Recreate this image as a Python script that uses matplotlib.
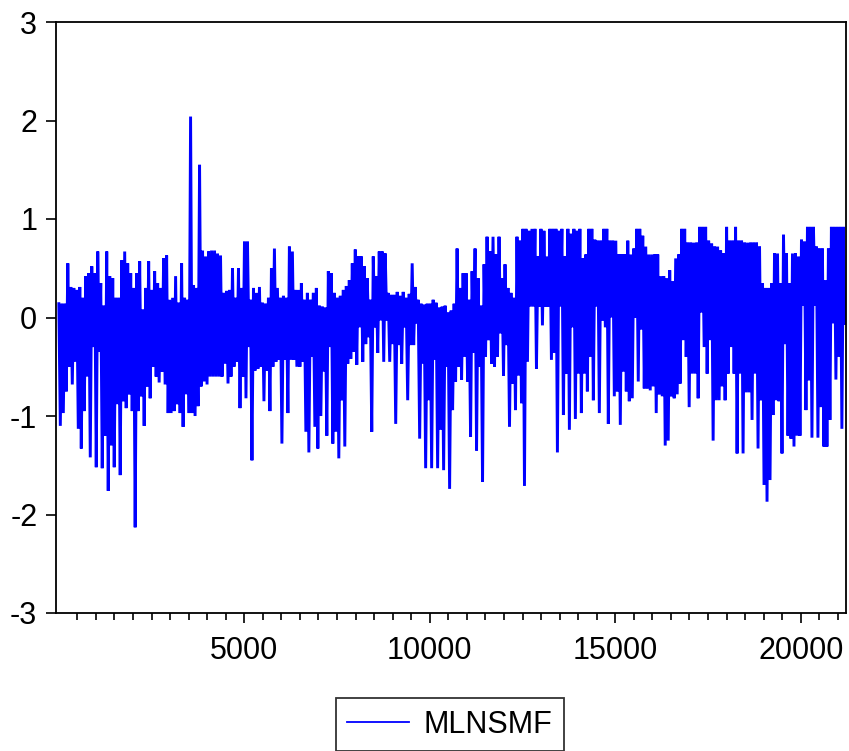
import matplotlib
matplotlib.use('Agg')
import matplotlib.pyplot as plt
import numpy as np
from matplotlib.ticker import FixedLocator

plt.rcParams['font.family'] = ['Liberation Sans', 'DejaVu Sans']
plt.rcParams['axes.unicode_minus'] = False

SERIES_NAME = "MLNSMF"
N_OBS = 21190

# values, left to right (pairs of upper / lower swings)
seg1 = [0.14, -1.1, 0.14, -0.97, 0.14, -0.75, 0.55, -0.5, 0.31, -0.68, 0.3, -0.45, 0.28, -1.13, 0.31, -1.33, 0.2, -0.95, 0.42, -0.6,
        0.45, -1.42, 0.52, -0.3, 0.45, -1.52, 0.67, -0.35, 0.35, -1.53, 0.12, -1.2, 0.67, -1.76, 0.42, -1.3, 0.4, -1.52, 0.2, -0.88,
        0.2, -1.6, 0.58, -0.85, 0.67, -0.92, 0.55, -0.78, 0.45, -0.95, 0.3, -2.13, 0.45, -0.95, 0.57, -0.8, 0.08, -1.1, 0.3, -0.7,
        0.57, -0.82, 0.28, -0.5, 0.47, -0.6, 0.35, -0.66, 0.3, -0.55, 0.6, -0.68, 0.63, -0.97, 0.18, -0.97, 0.2, -0.95, 0.42, -0.88,
        0.15, -0.97, 0.55, -1.11, 0.2, -0.78, 0.18, -0.97]
seg2 = [2.04, -0.97, 0.33, -1.0, 0.3, -0.9, 1.55, -0.7, 0.68, -0.65, 0.62, -0.68, 0.67, -0.6, 0.68, -0.6, 0.68, -0.6, 0.65, -0.6,
        0.63, -0.6, 0.25, -0.47, 0.27, -0.67, 0.28, -0.6, 0.5, -0.5, 0.2, -0.45, 0.5, -0.92, 0.3, -0.6, 0.77, -0.82, 0.77, -0.3,
        0.18, -1.45, 0.3, -0.54, 0.25, -0.52, 0.31, -0.5, 0.15, -0.85, 0.14, -0.54, 0.2, -0.95, 0.5, -0.5, 0.7, -0.45, 0.3, -0.43,
        0.2, -1.28, 0.22, -0.43, 0.2, -0.97, 0.72, -0.43, 0.67, -0.43, 0.28, -0.5, 0.28, -0.5, 0.35, -0.45, 0.18, -1.16, 0.25, -1.37,
        0.18, -0.4, 0.25, -1.11, 0.3, -1.33, 0.12, -1.0]
seg3 = [0.11, -0.55, 0.1, -1.2, 0.47, -0.3, 0.45, -1.28, 0.25, -1.16, 0.2, -1.43, 0.22, -0.84, 0.28, -1.31, 0.32, -0.47, 0.38, -0.42,
        0.55, -0.35, 0.69, -0.48, 0.62, -0.1, 0.62, -0.45, 0.52, -0.27, 0.4, -0.2, 0.18, -1.16, 0.62, -0.1, 0.42, -0.36, 0.67, -0.03,
        0.67, -0.45, 0.65, -0.03, 0.25, -0.45, 0.23, -0.27, 0.23, -1.08, 0.26, -0.28, 0.22, -0.47, 0.26, -0.1, 0.2, -0.84, 0.24, -0.28,
        0.55, -0.28, 0.31, -0.06, 0.18, -1.23, 0.14, -0.47, 0.13, -1.53, 0.14, -0.84, 0.14, -1.53, 0.18, -0.43, 0.15, -1.53, 0.1, -1.14,
        0.11, -1.55, 0.12, -0.5, 0.05, -1.74, 0.07, -0.94]
seg4 = [0.14, -0.65, 0.7, -0.5, 0.3, -0.63, 0.45, -0.4, 0.45, -0.65, 0.18, -1.21, 0.47, -0.36, 0.7, -1.35, 0.4, -0.5, 0.12, -1.67,
        0.54, -0.4, 0.82, -0.23, 0.67, -0.47, 0.82, -0.5, 0.64, -0.4, 0.82, -0.16, 0.4, -0.59, 0.54, -0.28, 0.3, -1.11, 0.25, -0.67,
        0.2, -0.94, 0.82, -0.59, 0.78, -0.87, 0.9, -1.71, 0.9, -0.45, 0.88, 0.11, 0.9, 0.11, 0.9, -0.52, 0.62, 0.11, 0.9, -0.08,
        0.88, 0.11, 0.62, 0.11, 0.9, -0.43, 0.9, -0.36, 0.9, -1.37, 0.88, 0.11, 0.9, -0.99, 0.62, -0.57, 0.9, -1.14, 0.85, -0.1,
        0.9, -1.03, 0.88, -0.57, 0.9, -0.97, 0.6, -0.57]
seg5 = [0.64, -0.75, 0.9, -0.4, 0.9, -0.84, 0.79, 0.11, 0.78, -0.97, 0.78, -0.03, 0.9, -0.1, 0.9, -1.08, 0.78, 0.0, 0.78, -0.8,
        0.78, -0.75, 0.64, -1.09, 0.64, -0.55, 0.64, -0.75, 0.78, -0.85, 0.64, -0.82, 0.7, 0.0, 0.9, -0.65, 0.9, -0.12, 0.83, -0.72,
        0.72, -0.72, 0.64, -0.74, 0.64, -0.7, 0.64, -0.97, 0.64, -0.78, 0.42, -0.8, 0.42, -1.3, 0.4, -1.25, 0.48, -0.8, 0.37, -0.82,
        0.6, -0.78, 0.64, -0.67, 0.9, -0.23, 0.9, -0.4, 0.76, -0.91, 0.76, -0.57, 0.76, -0.57, 0.76, -0.82, 0.92, 0.05, 0.92, -0.3,
        0.92, -0.57, 0.78, -0.23, 0.75, -1.25, 0.72, -0.84]
seg6 = [0.72, -0.84, 0.68, -0.7, 0.65, -0.84, 0.92, -0.57, 0.78, -0.3, 0.78, -0.57, 0.92, -1.38, 0.78, -0.57, 0.78, -1.38, 0.76, -0.76,
        0.76, -0.76, 0.76, -1.04, 0.76, -0.57, 0.76, -1.33, 0.72, -0.84, 0.35, -1.7, 0.3, -1.87, 0.3, -1.65, 0.35, -0.99, 0.65, -0.84,
        0.65, -0.85, 0.35, -1.38, 0.84, -0.27, 0.65, -1.2, 0.35, -1.23, 0.65, -1.31, 0.65, -1.2, 0.62, -1.2, 0.79, 0.12, 0.77, -0.94,
        0.92, -0.64, 0.92, -1.22, 0.92, 0.12, 0.72, -1.22, 0.7, -0.91, 0.7, -1.31, 0.38, -1.31, 0.7, -1.04, 0.92, -0.06, 0.92, -0.63,
        0.92, -0.4, 0.92, -1.13, 0.92, -0.06]

y_ticks = [-3, -2, -1, 0, 1, 2, 3]
x_ticks = [5000, 10000, 15000, 20000]
x_minor = [v for v in range(500, 21001, 500) if v % 5000 != 0]

values = np.array(seg1 + seg2 + seg3 + seg4 + seg5 + seg6)
obs = np.linspace(1, N_OBS, len(values))

fig = plt.figure(figsize=(8.49, 7.51), dpi=100)
ax = fig.add_axes([56 / 849, 1 - 613 / 751, 790 / 849, 591 / 751])
ax.plot(obs, values, color='#0000ff', lw=2.1, solid_joinstyle='miter', label=SERIES_NAME)

ax.set_xlim(-75, 21220)
ax.set_ylim(-3, 3)
ax.set_yticks(y_ticks)
ax.set_xticks(x_ticks)
ax.xaxis.set_minor_locator(FixedLocator(x_minor))
ax.tick_params(axis='both', which='major', direction='out', length=7.5, width=1.2,
               labelsize=22, colors='black')
ax.tick_params(axis='y', which='major', pad=6)
ax.tick_params(axis='x', which='major', pad=9)
ax.tick_params(axis='x', which='minor', direction='out', length=5, width=1.2)
for s in ax.spines.values():
    s.set_linewidth(1.3)
    s.set_color('black')

leg = fig.legend(loc='upper center', bbox_to_anchor=(450 / 849, 53 / 751), frameon=True,
                 fancybox=False, edgecolor='black', fontsize=22, handlelength=2.0,
                 handletextpad=0.5, borderpad=0.38, borderaxespad=0)
leg.get_frame().set_linewidth(1.3)
for h in leg.get_lines():
    h.set_linewidth(1.3)

fig.savefig('out.png', dpi=100)
